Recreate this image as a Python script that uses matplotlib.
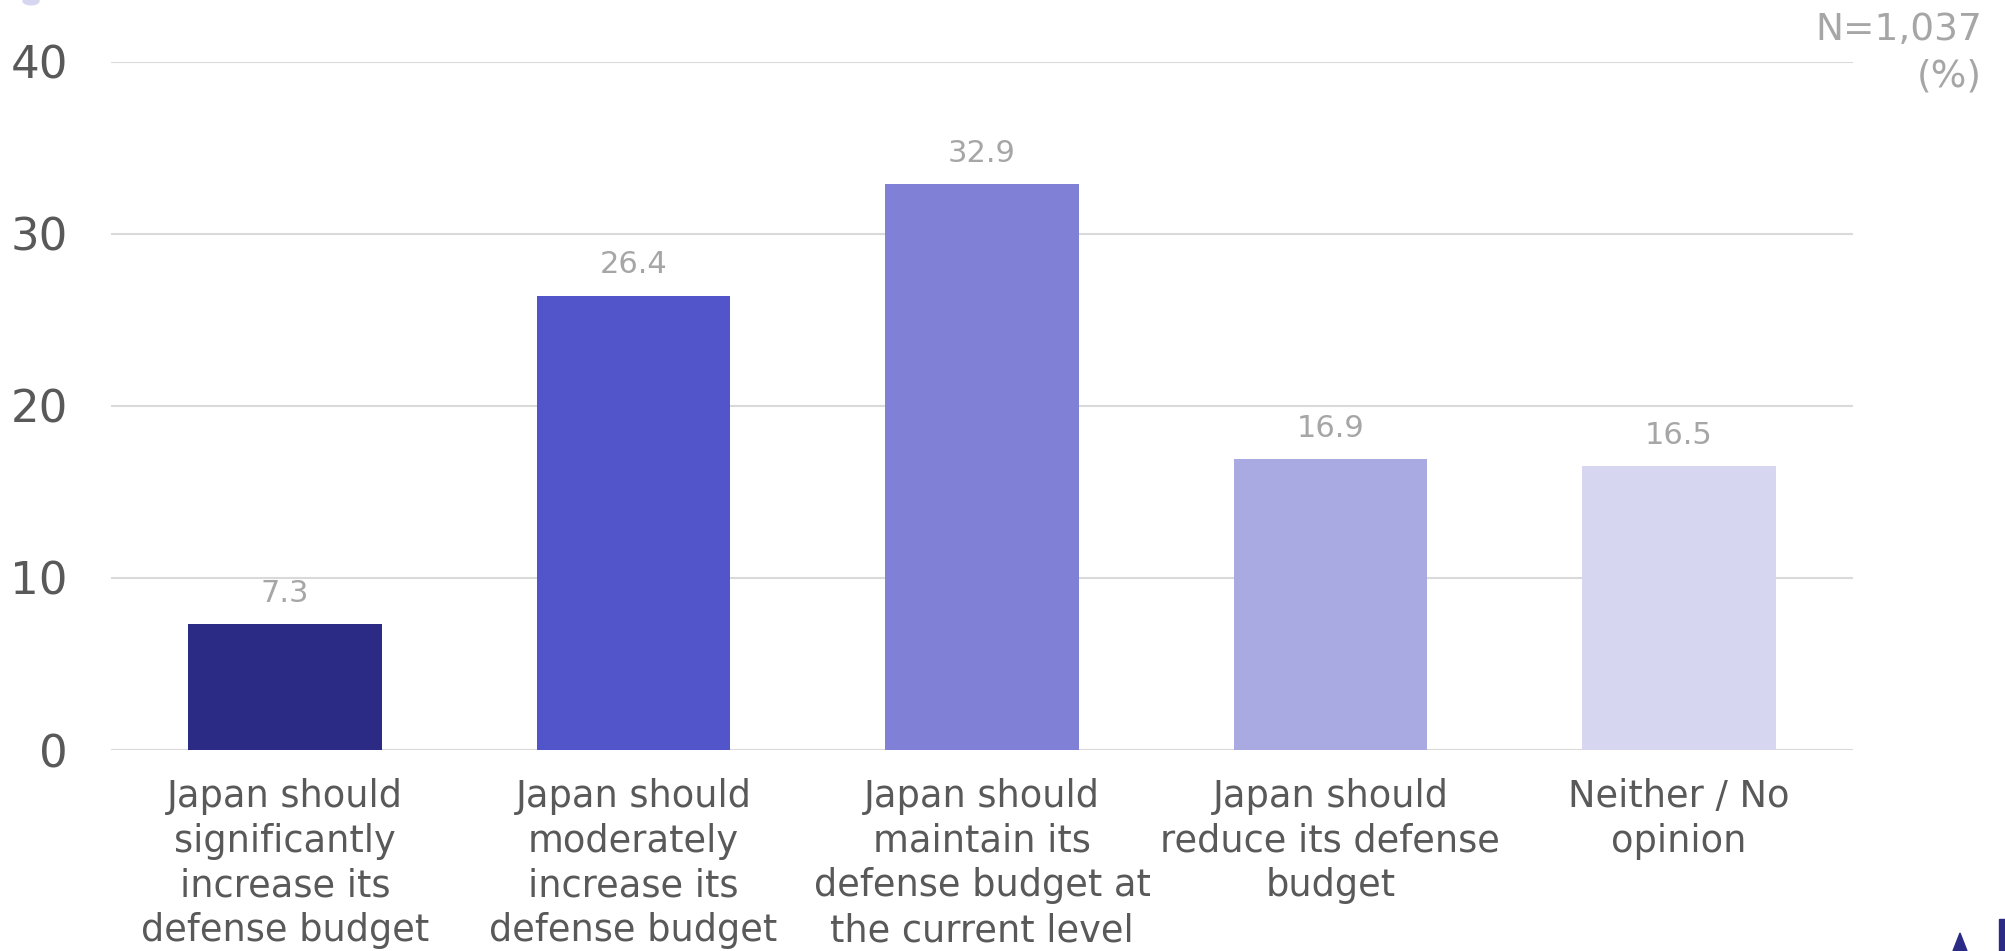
import matplotlib
matplotlib.use("Agg")
import matplotlib.pyplot as plt
from matplotlib.patches import Circle, Polygon, Rectangle

categories = [
    "Japan should\nsignificantly\nincrease its\ndefense budget",
    "Japan should\nmoderately\nincrease its\ndefense budget",
    "Japan should\nmaintain its\ndefense budget at\nthe current level",
    "Japan should\nreduce its defense\nbudget",
    "Neither / No\nopinion",
]
values = [7.3, 26.4, 32.9, 16.9, 16.5]
bar_colors = ["#2B2A85", "#5254C9", "#7F80D6", "#AAAAE3", "#D6D6F0"]
yticks = [0, 10, 20, 30, 40]
note_line1 = "N=1,037"
note_line2 = "(%)"

plt.rcParams['font.family'] = ['DejaVu Sans']

fig = plt.figure(figsize=(20.05, 9.51), dpi=100)
ax = fig.add_axes([111/2005, 1-750/951, (1853-111)/2005, (750-61.7)/951])

x = list(range(len(values)))
ax.bar(x, values, width=0.556, color=bar_colors, zorder=3)
ax.set_xlim(-0.5, len(values) - 0.5)
ax.set_ylim(0, 40)
ax.set_yticks(yticks)
ax.set_yticklabels([str(t) for t in yticks])
ax.grid(axis='y', color='#D9D9D9', linewidth=1.5, zorder=0)
ax.set_axisbelow(True)
for s in ax.spines.values():
    s.set_visible(False)
ax.set_xticks(x)
ax.set_xticklabels(categories, fontsize=26.5, color='#595959', linespacing=1.27)
ax.tick_params(axis='x', length=0, pad=20)
ax.tick_params(axis='y', length=0, pad=31, labelsize=32.5, labelcolor='#595959')

for xi, v in zip(x, values):
    ax.annotate(f"{v:.1f}", (xi, v), xytext=(0, 16), textcoords='offset points',
                ha='center', va='baseline', fontsize=22, color='#A6A6A6')

fig.text(1982/2005, 1-40/951, note_line1, ha='right', va='baseline',
         fontsize=27, color='#A6A6A6')
fig.text(1982/2005, 1-86/951, note_line2, ha='right', va='baseline',
         fontsize=27, color='#A6A6A6')

# decorative fragments
fig.patches.append(Circle((31/2005, 1-1/951), 0.004, transform=fig.transFigure,
                          color='#D6D6F0', zorder=5))
fig.patches.append(Polygon([(1953/2005, 0), (1967/2005, 0), (1960/2005, 18/951)],
                           closed=True, transform=fig.transFigure, color='#2B2A85'))
fig.patches.append(Rectangle((1999/2005, 0), 6/2005, 32/951,
                             transform=fig.transFigure, color='#2B2A85'))

fig.savefig("out.png", dpi=100)
